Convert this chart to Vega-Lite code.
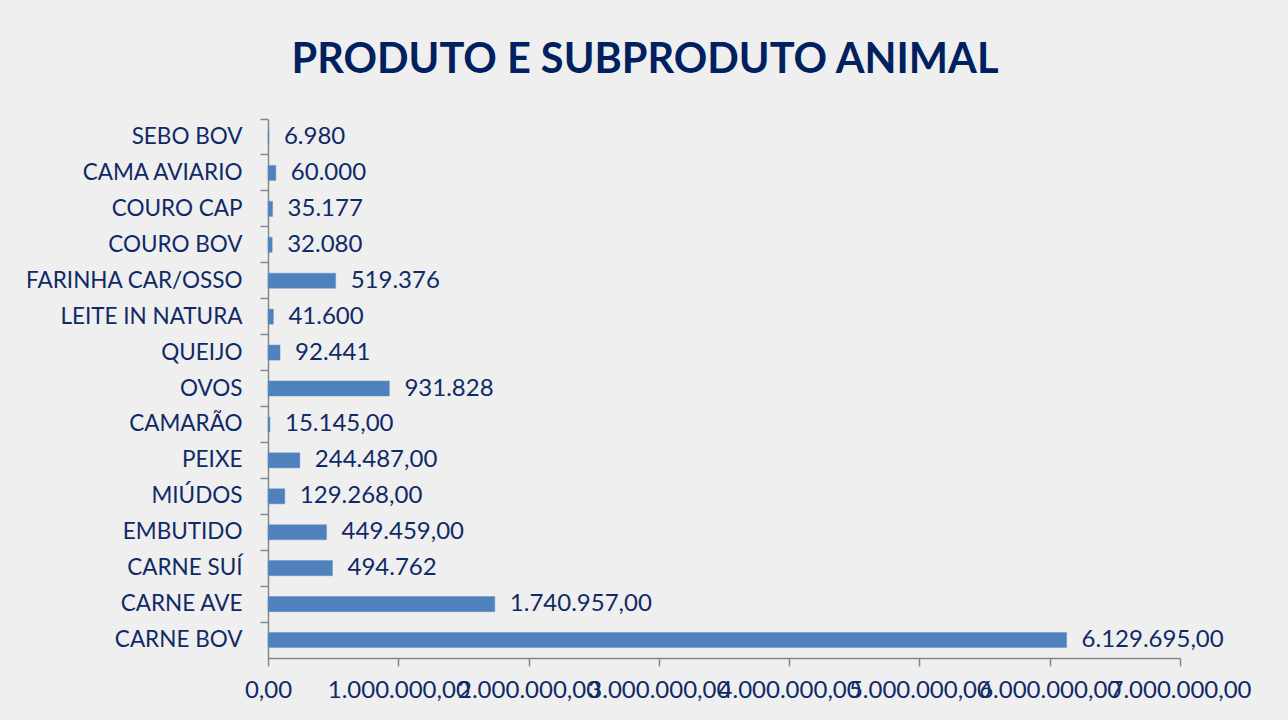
{
  "$schema": "https://vega.github.io/schema/vega-lite/v6.json",
  "width": 912,
  "height": 539,
  "autosize": "none",
  "padding": {"left": 268, "top": 119, "right": 108, "bottom": 62},
  "background": "#efefef",
  "config": {
    "view": {"stroke": null},
    "font": "Lato",
    "locale": {"number": {"decimal": ",", "thousands": ".", "grouping": [3], "currency": ["R$", ""]}}
  },
  "title": {
    "text": "PRODUTO E SUBPRODUTO ANIMAL",
    "font": "Lato",
    "fontSize": 41.5,
    "fontWeight": "bold",
    "color": "#002060",
    "anchor": "middle",
    "dx": -79,
    "offset": 37
  },
  "data": {
    "values": [
      {"produto": "SEBO BOV", "valor": 6980, "rotulo": "6.980"},
      {"produto": "CAMA AVIARIO", "valor": 60000, "rotulo": "60.000"},
      {"produto": "COURO CAP", "valor": 35177, "rotulo": "35.177"},
      {"produto": "COURO BOV", "valor": 32080, "rotulo": "32.080"},
      {"produto": "FARINHA CAR/OSSO", "valor": 519376, "rotulo": "519.376"},
      {"produto": "LEITE IN NATURA", "valor": 41600, "rotulo": "41.600"},
      {"produto": "QUEIJO", "valor": 92441, "rotulo": "92.441"},
      {"produto": "OVOS", "valor": 931828, "rotulo": "931.828"},
      {"produto": "CAMARÃO", "valor": 15145, "rotulo": "15.145,00"},
      {"produto": "PEIXE", "valor": 244487, "rotulo": "244.487,00"},
      {"produto": "MIÚDOS", "valor": 129268, "rotulo": "129.268,00"},
      {"produto": "EMBUTIDO", "valor": 449459, "rotulo": "449.459,00"},
      {"produto": "CARNE SUÍ", "valor": 494762, "rotulo": "494.762"},
      {"produto": "CARNE AVE", "valor": 1740957, "rotulo": "1.740.957,00"},
      {"produto": "CARNE BOV", "valor": 6129695, "rotulo": "6.129.695,00"}
    ]
  },
  "encoding": {
    "y": {
      "field": "produto",
      "type": "nominal",
      "sort": null,
      "scale": {"paddingInner": 0, "paddingOuter": 0},
      "axis": {
        "title": null,
        "bandPosition": 0,
        "grid": false,
        "domainColor": "#868686",
        "domainWidth": 1.5,
        "tickColor": "#868686",
        "tickWidth": 1.5,
        "tickSize": 8,
        "labelPadding": 18,
        "labelFont": "Lato",
        "labelFontSize": 22.5,
        "labelColor": "#0f2a66",
        "labelLimit": 400,
        "labelBound": false
      }
    },
    "x": {
      "field": "valor",
      "type": "quantitative",
      "scale": {"domain": [0, 7000000], "nice": false},
      "axis": {
        "title": null,
        "format": ",.2f",
        "values": [0, 1000000, 2000000, 3000000, 4000000, 5000000, 6000000, 7000000],
        "grid": false,
        "domainColor": "#868686",
        "domainWidth": 1.5,
        "tickColor": "#868686",
        "tickWidth": 1.5,
        "tickSize": 8,
        "labelPadding": 12,
        "labelFont": "Lato",
        "labelFontSize": 24,
        "labelColor": "#0f2a66",
        "labelOverlap": false,
        "labelFlush": false,
        "labelBound": false,
        "labelLimit": 400
      }
    }
  },
  "layer": [
    {
      "mark": {"type": "bar", "height": {"band": 0.42}, "color": "#4f81bd", "stroke": "#6a94c8", "strokeWidth": 0.5}
    },
    {
      "mark": {"type": "text", "align": "left", "baseline": "middle", "dx": 15, "font": "Lato", "fontSize": 24, "color": "#0f2a66"},
      "encoding": {"text": {"field": "rotulo"}}
    }
  ]
}
